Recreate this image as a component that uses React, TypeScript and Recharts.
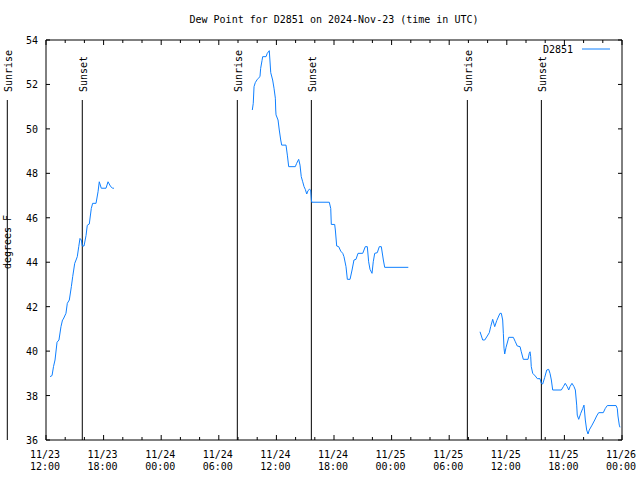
import { LineChart, Line, XAxis, YAxis, ReferenceLine, Legend } from 'recharts'

const FONT = '"DejaVu Sans Mono", monospace'
const BLUE = '#0f80ff'
const PLOT_TOP = 40
const PLOT_RIGHT = 622

// time axis: hours after 2024-11-23 12:00 UTC
const hoursA = [0.42, 0.63, 0.78, 0.94, 1.15, 1.35, 1.56, 1.72, 1.8, 2.08, 2.22, 2.43, 2.64, 2.78, 2.99, 3.13, 3.26, 3.41, 3.54, 3.68, 3.78, 3.96, 4.17, 4.3, 4.51, 4.72, 4.86, 5.21, 5.42, 5.55, 5.76, 6.25, 6.46, 6.74, 6.95, 7.08]
const dewA = [38.85, 38.9, 39.3, 39.6, 40.4, 40.5, 41.1, 41.4, 41.44, 41.7, 42.15, 42.3, 42.9, 43.35, 43.95, 44.1, 44.25, 44.7, 45.07, 45.0, 44.73, 44.73, 45.2, 45.66, 45.72, 46.42, 46.65, 46.65, 47.17, 47.62, 47.33, 47.33, 47.62, 47.4, 47.33, 47.33]

const hoursB = [21.49, 21.59, 21.67, 21.8, 22.01, 22.29, 22.36, 22.5, 22.57, 22.92,
  23.05, 23.26, 23.41, 23.61, 23.75, 23.89, 23.93, 23.96, 24.17, 24.3,
  24.45, 24.55, 25.0, 25.14, 25.28, 25.97, 26.11, 26.32, 26.46, 26.59,
  26.74, 26.88, 27.01, 27.16, 27.29, 27.43, 27.57, 27.64, 27.68, 29.51,
  29.66, 29.72, 30.07, 30.14, 30.28, 30.49, 30.7, 30.91, 31.04, 31.25,
  31.39, 31.67, 31.88, 32.08, 32.29, 32.5, 32.99, 33.26, 33.47, 33.61,
  33.75, 33.96, 34.09, 34.24, 34.51, 34.72, 34.93, 35.14, 35.28, 37.74]
const dewB = [50.85, 51.15, 51.9, 52.08, 52.23, 52.35, 52.72, 53.07, 53.25, 53.25,
  53.4, 53.52, 52.53, 52.2, 51.83, 51.38, 50.85, 50.63, 50.4, 49.95,
  49.5, 49.27, 49.27, 48.82, 48.3, 48.3, 48.45, 48.63, 48.37, 47.85,
  47.62, 47.4, 47.28, 47.07, 47.22, 47.28, 47.25, 46.8, 46.7, 46.7,
  46.42, 45.7, 45.7, 45.45, 44.73, 44.7, 44.5, 44.4, 44.25, 43.8,
  43.23, 43.23, 43.65, 44.1, 44.13, 44.4, 44.4, 44.7, 44.7, 44.02,
  43.68, 43.5, 44.02, 44.4, 44.43, 44.7, 44.7, 44.1, 43.77, 43.77]

const hoursC = [45.21, 45.49, 45.7, 45.97, 46.18, 46.32, 46.53, 46.74, 46.95, 47.16,
  47.29, 47.43, 47.57, 47.64, 47.71, 47.78, 47.92, 48.13, 48.2, 48.68,
  48.89, 49.09, 49.38, 49.51, 49.72, 50.21, 50.34, 50.42, 50.49, 50.55,
  50.7, 50.97, 51.18, 51.46, 51.59, 51.74, 51.95, 52.16, 52.36, 52.5,
  52.64, 52.78, 53.68, 53.89, 54.09, 54.3, 54.45, 54.58, 54.79, 55.0,
  55.14, 55.28, 55.34, 55.49, 55.7, 55.91, 56.04, 56.18, 56.32, 56.46,
  56.59, 56.88, 57.16, 57.36, 57.57, 58.05, 58.26, 58.47, 59.38, 59.51,
  59.58, 59.72, 59.79]
const dewC = [40.87, 40.5, 40.5, 40.68, 40.83, 41.1, 41.43, 41.1, 41.37, 41.58,
  41.7, 41.7, 41.4, 40.8, 40.13, 39.87, 40.17, 40.5, 40.62, 40.62,
  40.42, 40.23, 40.2, 39.97, 39.63, 39.63, 39.9, 39.97, 39.75, 39.3,
  39.0, 38.88, 38.76, 38.76, 38.55, 38.52, 38.82, 39.15, 39.18, 39.0,
  38.7, 38.25, 38.25, 38.4, 38.55, 38.4, 38.25, 38.4, 38.55, 38.4,
  38.25, 37.57, 37.12, 36.93, 37.2, 37.42, 37.57, 36.9, 36.45, 36.27,
  36.45, 36.67, 36.9, 37.08, 37.23, 37.23, 37.42, 37.55, 37.55, 37.42,
  37.08, 36.67, 36.57]

const sunHours = [-4.03, 3.78, 19.93, 27.64, 43.89, 51.6]
const sunNames = ['Sunrise', 'Sunset', 'Sunrise', 'Sunset', 'Sunrise', 'Sunset']

const xTicks = [0, 2, 4, 6, 8, 10, 12, 14, 16, 18, 20, 22, 24, 26, 28, 30, 32, 34, 36, 38, 40, 42, 44, 46, 48, 50, 52, 54, 56, 58, 60]
const yTicks = [36, 38, 40, 42, 44, 46, 48, 50, 52, 54]

const toRows = (h: number[], v: number[]) => h.map((t, i) => ({ h: t, dew: v[i] }))
const segA = toRows(hoursA, dewA)
const segB = toRows(hoursB, dewB)
const segC = toRows(hoursC, dewC)

const pad = (n: number) => (n < 10 ? '0' + n : '' + n)

function XTick({ x, y, payload }: any) {
  const v = payload.value
  const major = v % 6 === 0
  const len = major ? 5 : 3
  const day = 23 + Math.floor((12 + v) / 24)
  const hr = (12 + v) % 24
  return (
    <g>
      <line x1={x} x2={x} y1={y} y2={y - len} stroke="#000" />
      <line x1={x} x2={x} y1={PLOT_TOP} y2={PLOT_TOP + len} stroke="#000" />
      {major && (
        <text x={x - 1} y={y + 18} textAnchor="middle" fontFamily={FONT} fontSize={10} fill="#000">
          {'11/' + day}
        </text>
      )}
      {major && (
        <text x={x - 1} y={y + 30} textAnchor="middle" fontFamily={FONT} fontSize={10} fill="#000">
          {pad(hr) + ':00'}
        </text>
      )}
    </g>
  )
}

function YTick({ x, y, payload }: any) {
  return (
    <g>
      <line x1={x} x2={x + 4} y1={y} y2={y} stroke="#000" />
      <line x1={PLOT_RIGHT} x2={PLOT_RIGHT - 4} y1={y} y2={y} stroke="#000" />
      <text x={x - 8} y={y + 4} textAnchor="end" fontFamily={FONT} fontSize={10} fill="#000">
        {payload.value}
      </text>
    </g>
  )
}

const sunLabel = (props: any) => {
  const vb = props.viewBox
  return (
    <text
      x={vb.x + 1.5}
      y={vb.y - 8}
      transform={`rotate(-90 ${vb.x + 1.5} ${vb.y - 8})`}
      dominantBaseline="middle"
      fontFamily={FONT}
      fontSize={10}
      fill="#000"
    >
      {props.value}
    </text>
  )
}

const yLabel = (props: any) => {
  const vb = props.viewBox
  const cy = vb.y + vb.height / 2 + 2
  return (
    <text x={8} y={cy} transform={`rotate(-90 8 ${cy})`} textAnchor="middle" dominantBaseline="middle" fontFamily={FONT} fontSize={10} fill="#000">
      degrees F
    </text>
  )
}

const legendBox = () => (
  <svg width={140} height={14} style={{ display: 'block' }}>
    <text x={93} y={11} textAnchor="end" fontFamily={FONT} fontSize={10} fill="#000">D2851</text>
    <line x1={102} x2={130} y1={7} y2={7} stroke={BLUE} />
  </svg>
)

export default function App() {
  return (
    <div style={{ position: 'absolute', left: 0, top: 0, width: 640, height: 480, background: '#fff' }}>
      <div style={{ position: 'absolute', left: 46, top: 13, width: 576, textAlign: 'center', fontFamily: FONT, fontSize: 10, lineHeight: '14px' }}>
        Dew Point for D2851 on 2024-Nov-23 (time in UTC)
      </div>
      <LineChart width={640} height={480} margin={{ top: 39, right: 17, bottom: 39, left: 45 }}>
        <XAxis
          type="number"
          dataKey="h"
          domain={[0, 60]}
          ticks={xTicks}
          interval={0}
          height={1}
          tickSize={0}
          tickMargin={0}
          tickLine={false}
          tick={<XTick />}
          axisLine={{ stroke: '#000' }}
          allowDataOverflow
        />
        <XAxis xAxisId="top" orientation="top" type="number" domain={[0, 60]} height={1} tick={false} tickLine={false} axisLine={{ stroke: '#000' }} />
        <YAxis
          type="number"
          domain={[36, 54]}
          ticks={yTicks}
          interval={0}
          width={1}
          tickSize={0}
          tickMargin={0}
          tickLine={false}
          tick={<YTick />}
          axisLine={{ stroke: '#000' }}
          label={{ value: 'degrees F', content: yLabel }}
        />
        <YAxis yAxisId="right" orientation="right" domain={[36, 54]} width={1} tick={false} tickLine={false} axisLine={{ stroke: '#000' }} />
        <Legend
          layout="vertical"
          align="center"
          verticalAlign="middle"
          wrapperStyle={{ position: 'absolute', left: 480, top: 42, width: 140, height: 14 }}
          content={legendBox}
        />
        {sunHours.map((t, i) => (
          <ReferenceLine
            key={i}
            segment={[{ x: t, y: 36 }, { x: t, y: 51.3 }]}
            stroke="#000"
            strokeWidth={1}
            ifOverflow="visible"
            label={{ value: sunNames[i], content: sunLabel }}
          />
        ))}
        <Line data={segA} dataKey="dew" name="D2851" type="linear" stroke={BLUE} strokeWidth={1} dot={false} activeDot={false} isAnimationActive={false} />
        <Line data={segB} dataKey="dew" name="D2851" type="linear" stroke={BLUE} strokeWidth={1} dot={false} activeDot={false} isAnimationActive={false} />
        <Line data={segC} dataKey="dew" name="D2851" type="linear" stroke={BLUE} strokeWidth={1} dot={false} activeDot={false} isAnimationActive={false} />
      </LineChart>
    </div>
  )
}
